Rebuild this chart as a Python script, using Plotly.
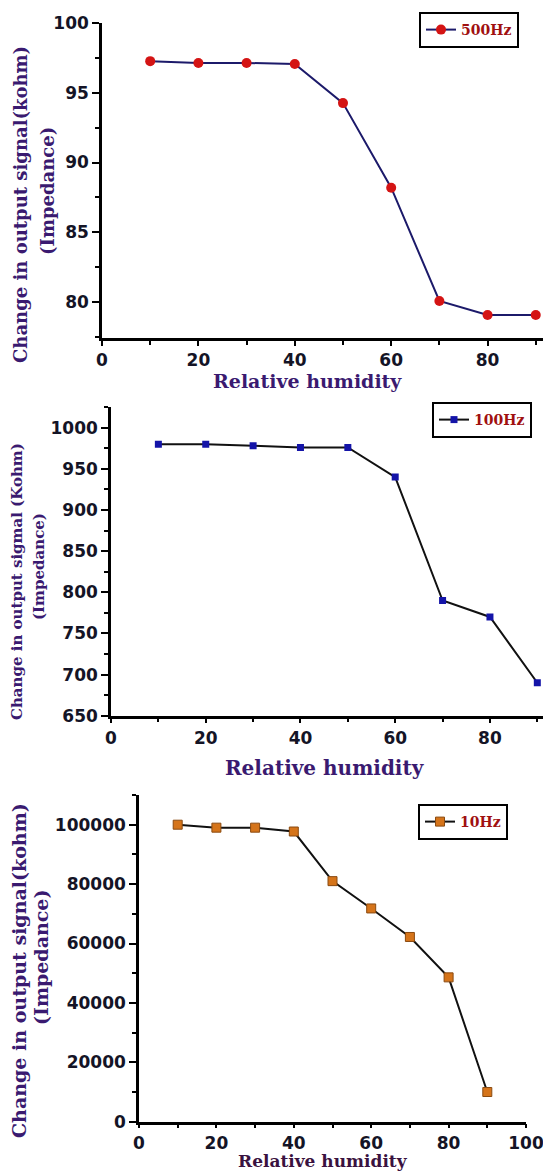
import plotly.graph_objects as go

W, H = 543, 1172

# ---------------- data ----------------
humidity = [10, 20, 30, 40, 50, 60, 70, 80, 90]
imp_500hz = [97.25, 97.12, 97.12, 97.05, 94.25, 88.2, 80.1, 79.1, 79.1]
imp_100hz = [980, 980, 978, 976, 976, 940, 790, 770, 690]
imp_10hz = [100000, 99000, 99000, 97700, 81000, 71800, 62200, 48600, 10000]

x_title = "Relative humidity"
y_title1 = ["Change in output signal(kohm)", "(Impedance)"]
y_title2 = ["Change in output sigmal (Kohm)", "(Impedance)"]
y_title3 = ["Change in output signal(kohm)", "(Impedance)"]


def px(x):
    return x / W


def py(y):
    return 1 - y / H


TITLE_FONT = "DejaVu Serif"
TICK_FONT = "DejaVu Sans"
PURPLE = "#3a1a70"

fig = go.Figure()

fig.add_trace(go.Scatter(
    x=humidity, y=imp_500hz, mode="lines+markers", name="500Hz",
    line=dict(color="#1c1a6a", width=2),
    marker=dict(symbol="circle", size=10, color="#d41414", line=dict(width=0)),
    xaxis="x", yaxis="y", legend="legend"))

fig.add_trace(go.Scatter(
    x=humidity, y=imp_100hz, mode="lines+markers", name="100Hz",
    line=dict(color="#111111", width=2),
    marker=dict(symbol="square", size=7, color="#1414a8", line=dict(width=0)),
    xaxis="x2", yaxis="y2", legend="legend2"))

fig.add_trace(go.Scatter(
    x=humidity, y=imp_10hz, mode="lines+markers", name="10Hz",
    line=dict(color="#111111", width=2),
    marker=dict(symbol="square", size=9, color="#d5741a",
                line=dict(width=1, color="#8a4a10")),
    xaxis="x3", yaxis="y3", legend="legend3"))


def axis_common(ticklen=7):
    return dict(
        automargin=False, ticklabeloverflow="allow",
        showline=True, linecolor="black", linewidth=2.5, mirror=False,
        showgrid=False, zeroline=False,
        ticks="outside", ticklen=ticklen, tickwidth=2, tickcolor="black",
        tickfont=dict(family=TICK_FONT, size=17, color="#141426", weight="bold"),
    )


def minor(d):
    return dict(dtick=d, ticks="outside", ticklen=4, tickwidth=2,
                tickcolor="black", showgrid=False)


fig.update_layout(
    xaxis=dict(domain=[px(102), 1.0], anchor="y", range=[0, 91.5],
               tick0=0, dtick=20, minor=minor(10), **axis_common(5)),
    yaxis=dict(domain=[py(338), py(22.7)], anchor="x", range=[77.45, 100],
               tick0=80, dtick=5, minor=minor(2.5), **axis_common()),
    xaxis2=dict(domain=[px(111), 1.0], anchor="y2", range=[0, 91.2],
                tick0=0, dtick=20, minor=minor(10), **axis_common(5)),
    yaxis2=dict(domain=[py(715.7), py(406.7)], anchor="x2", range=[650, 1025.5],
                tick0=650, dtick=50, minor=minor(25), **axis_common()),
    xaxis3=dict(domain=[px(139), px(526)], anchor="y3", range=[0, 100],
                tick0=0, dtick=20, minor=minor(10), **axis_common(4)),
    yaxis3=dict(domain=[py(1121.7), py(795)], anchor="x3", range=[0, 110000],
                tick0=0, dtick=20000, minor=minor(10000), tickformat="d",
                **axis_common()),
)

legend_common = dict(
    yanchor="middle", bgcolor="white",
    bordercolor="black", borderwidth=2,
    font=dict(family=TITLE_FONT, size=14, color="#a01010", weight="bold"),
    itemwidth=30, tracegroupgap=0,
)
fig.update_layout(
    legend=dict(x=px(469), xanchor="center", y=py(30), **legend_common),
    legend2=dict(x=px(432), xanchor="left", y=py(420), **legend_common),
    legend3=dict(x=px(463), xanchor="center", y=py(822), **legend_common),
)

annotations = []


def add_x_title(cx, cy, size, color=PURPLE):
    annotations.append(dict(
        text=x_title, x=px(cx), y=py(cy), xref="paper", yref="paper",
        xanchor="center", yanchor="middle", showarrow=False,
        font=dict(family=TITLE_FONT, size=size, color=color, weight="bold")))


def add_y_title(lines, cx1, cy1, cx2, cy2, size, color=PURPLE):
    for text, cx, cy in ((lines[0], cx1, cy1), (lines[1], cx2, cy2)):
        annotations.append(dict(
            text=text, x=px(cx), y=py(cy), xref="paper", yref="paper",
            xanchor="center", yanchor="middle", showarrow=False, textangle=-90,
            font=dict(family=TITLE_FONT, size=size, color=color, weight="bold")))


add_x_title(307, 381, 19)
add_y_title(y_title1, 20, 205, 47, 191, 18)
add_x_title(325, 768, 20)
add_y_title(y_title2, 17, 582, 39, 567, 15)
add_x_title(323, 1160.5, 17, color="#3a1240")
add_y_title(y_title3, 19, 971, 41, 958, 19)

fig.update_layout(
    annotations=annotations,
    width=W, height=H, margin=dict(l=0, r=0, t=0, b=0),
    paper_bgcolor="white", plot_bgcolor="white",
    showlegend=True,
)

fig.write_html("out.html")
